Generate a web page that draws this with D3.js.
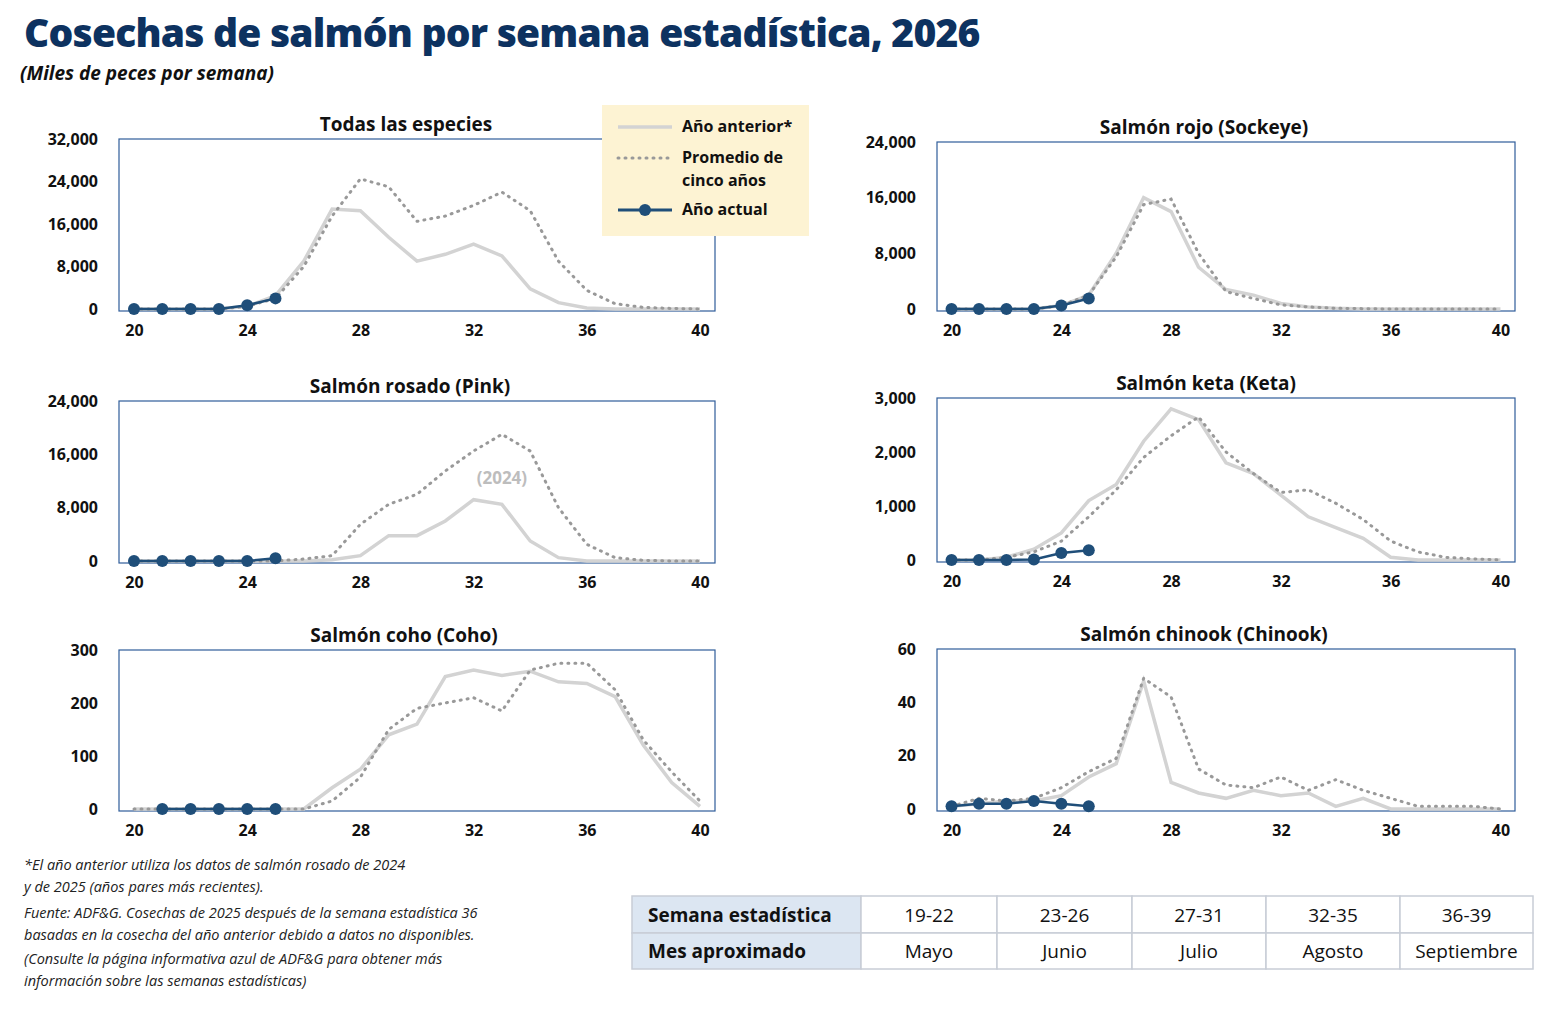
<!DOCTYPE html>
<html><head><meta charset="utf-8">
<script src="https://cdn.jsdelivr.net/npm/d3@7"></script>
<style>body{margin:0;background:#fff;font-family:"Open Sans",sans-serif}</style>
</head><body>
<svg id="chart" width="1552" height="1013"></svg>
<script>
const svg = d3.select("#chart");
const navy = "#0d3260";
const weeks = d3.range(20, 41);

// values per week 20..40
const panels = [
  { title: "Todas las especies", x0: 119, x1: 715, y0: 139, y1: 311, max: 32000, step: 8000, tx: 406,
    prev: [0,0,0,0,500,2500,9000,18800,18500,13500,9000,10300,12200,10000,3800,1200,200,0,0,0,0],
    five: [0,0,0,0,500,2000,8000,17500,24500,23000,16500,17500,19500,22000,18500,9000,3500,1000,300,100,0],
    cur: [0,0,0,0,700,2000] },
  { title: "Salmón rojo (Sockeye)", x0: 937, x1: 1515, y0: 142, y1: 311, max: 24000, step: 8000, tx: 1204,
    prev: [0,0,0,0,500,2000,8000,16000,14000,6000,2800,2000,800,300,100,0,0,0,0,0,0],
    five: [0,0,0,0,500,2000,7500,15000,15800,8000,2500,1500,600,300,100,50,0,0,0,0,0],
    cur: [0,0,0,0,500,1500] },
  { title: "Salmón rosado (Pink)", x0: 119, x1: 715, y0: 401, y1: 563, max: 24000, step: 8000, tx: 410, note: true,
    prev: [0,0,0,0,0,0,0,200,800,3800,3800,6000,9200,8500,3000,500,0,0,0,0,0],
    five: [0,0,0,0,0,0,300,800,5500,8500,10000,13500,16500,19000,16500,8000,2500,500,100,0,0],
    cur: [0,0,0,0,0,400] },
  { title: "Salmón keta (Keta)", x0: 937, x1: 1515, y0: 398, y1: 562, max: 3000, step: 1000, tx: 1206,
    prev: [0,0,50,200,500,1100,1400,2200,2800,2600,1800,1600,1200,800,600,400,50,0,0,0,0],
    five: [0,0,50,150,350,800,1300,1900,2300,2650,2000,1600,1250,1300,1050,750,350,150,50,20,0],
    cur: [0,0,0,10,130,180] },
  { title: "Salmón coho (Coho)", x0: 119, x1: 715, y0: 650, y1: 811, max: 300, step: 100, tx: 404,
    prev: [0,0,0,0,0,0,0,40,75,140,160,250,262,252,260,240,237,212,120,50,5],
    five: [0,0,0,0,0,0,0,15,60,150,190,200,210,185,262,275,275,225,130,70,15],
    cur: [null,0,0,0,0,0] },
  { title: "Salmón chinook (Chinook)", x0: 937, x1: 1515, y0: 649, y1: 811, max: 60, step: 20, tx: 1204,
    prev: [1,2,3,3,5,12,17,48,10,6,4,7,5,6,1,4,0,0,0,0,0],
    five: [1,4,3,4,8,14,19,49,42,15,9,8,12,7,11,7,4,1,1,1,0],
    cur: [1,2,2,3,2,1] }
];

panels.forEach(p => {
  const x = d3.scaleLinear().domain([19.47, 40.53]).range([p.x0, p.x1]);
  const y = d3.scaleLinear().domain([0, p.max]).range([p.y1 - 2, p.y0]);
  const g = svg.append("g");

  g.append("rect").attr("x", p.x0).attr("y", p.y0)
    .attr("width", p.x1 - p.x0).attr("height", p.y1 - p.y0)
    .attr("fill", "none").attr("stroke", "#2f5d9a").attr("stroke-width", 1.2);

  g.append("text").attr("x", p.tx).attr("y", p.y0 - 8)
    .attr("text-anchor", "middle").attr("font-size", 19).attr("font-weight", 700)
    .attr("fill", "#111").text(p.title);

  const yAxis = d3.axisLeft(y).tickValues(d3.range(0, p.max + 1, p.step))
    .tickFormat(d3.format(",")).tickSize(0).tickPadding(21);
  g.append("g").attr("transform", `translate(${p.x0},0)`).call(yAxis)
    .call(a => a.select(".domain").remove())
    .selectAll("text").attr("font-size", 16).attr("font-weight", 700)
    .attr("fill", "#111").attr("font-family", "Open Sans");

  const xAxis = d3.axisBottom(x).tickValues([20, 24, 28, 32, 36, 40]).tickSize(0).tickPadding(14);
  g.append("g").attr("transform", `translate(0,${p.y1})`).call(xAxis)
    .call(a => a.select(".domain").remove())
    .selectAll("text").attr("font-size", 16).attr("font-weight", 700)
    .attr("fill", "#111").attr("font-family", "Open Sans");

  const line = d3.line().defined(d => d[1] !== null).x(d => x(d[0])).y(d => y(d[1]));
  const pts = arr => arr.map((v, i) => [weeks[i], v]);

  g.append("path").attr("d", line(pts(p.prev))).attr("fill", "none")
    .attr("stroke", "#d3d3d3").attr("stroke-width", 3.5);
  g.append("path").attr("d", line(pts(p.five))).attr("fill", "none")
    .attr("stroke", "#999").attr("stroke-width", 3).attr("stroke-dasharray", "1,6")
    .attr("stroke-linecap", "round");
  const cur = pts(p.cur).filter(d => d[1] !== null);
  g.append("path").attr("d", line(cur)).attr("fill", "none")
    .attr("stroke", "#1f4e79").attr("stroke-width", 2.5);
  g.selectAll("circle").data(cur).join("circle")
    .attr("cx", d => x(d[0])).attr("cy", d => y(d[1])).attr("r", 6).attr("fill", "#1f4e79");

  if (p.note) {
    g.append("text").attr("x", x(33)).attr("y", y(11500)).attr("text-anchor", "middle")
      .attr("font-size", 17).attr("font-weight", 700).attr("fill", "#bdbdbd").text("(2024)");
  }
});

// title
svg.append("text").attr("x", 24).attr("y", 47).attr("font-size", 39).attr("font-weight", 800)
  .attr("fill", navy).attr("letter-spacing", -0.8).text("Cosechas de salmón por semana estadística, 2026");
svg.append("text").attr("x", 20).attr("y", 80).attr("font-size", 19).attr("font-weight", 700)
  .attr("font-style", "italic").attr("fill", "#111").text("(Miles de peces por semana)");

// legend
const lg = svg.append("g");
lg.append("rect").attr("x", 602).attr("y", 105).attr("width", 207).attr("height", 131).attr("fill", "#fdf3d3");
const leg = [
  { lab: ["Año anterior*"], y: 127, type: "prev" },
  { lab: ["Promedio de", "cinco años"], y: 158, type: "five" },
  { lab: ["Año actual"], y: 210, type: "cur" }
];
leg.forEach(l => {
  const ly = l.y;
  const ln = lg.append("line").attr("x1", 618).attr("x2", 672).attr("y1", ly).attr("y2", ly);
  if (l.type === "prev") ln.attr("stroke", "#d3d3d3").attr("stroke-width", 3.5);
  if (l.type === "five") ln.attr("stroke", "#999").attr("stroke-width", 3).attr("stroke-dasharray", "1,6").attr("stroke-linecap", "round");
  if (l.type === "cur") {
    ln.attr("stroke", "#1f4e79").attr("stroke-width", 3);
    lg.append("circle").attr("cx", 645).attr("cy", ly).attr("r", 6).attr("fill", "#1f4e79");
  }
  l.lab.forEach((t, i) => lg.append("text").attr("x", 682).attr("y", l.y + 5 + i * 23)
    .attr("font-size", 16).attr("font-weight", 700).attr("fill", "#111").text(t));
});

// footnotes
const notes = [
  ["*El año anterior utiliza los datos de salmón rosado de 2024", 870],
  ["y de 2025 (años pares más recientes).", 892],
  ["Fuente: ADF&G. Cosechas de 2025 después de la semana estadística 36", 918],
  ["basadas en la cosecha del año anterior debido a datos no disponibles.", 940],
  ["(Consulte la página informativa azul de ADF&G para obtener más", 964],
  ["información sobre las semanas estadísticas)", 986]
];
svg.append("g").selectAll("text").data(notes).join("text")
  .attr("x", 24).attr("y", d => d[1]).attr("font-size", 14.5).attr("font-style", "italic")
  .attr("fill", "#222").text(d => d[0]);

// table
const cols = [632, 861, 997, 1132, 1266, 1400, 1533];
const rows = [896, 933, 969];
const cells = [
  ["Semana estadística", "19-22", "23-26", "27-31", "32-35", "36-39"],
  ["Mes aproximado", "Mayo", "Junio", "Julio", "Agosto", "Septiembre"]
];
const tb = svg.append("g");
cells.forEach((r, ri) => r.forEach((c, ci) => {
  tb.append("rect").attr("x", cols[ci]).attr("y", rows[ri])
    .attr("width", cols[ci + 1] - cols[ci]).attr("height", rows[ri + 1] - rows[ri])
    .attr("fill", ci === 0 ? "#dce6f2" : "#fff").attr("stroke", "#c8cdd6").attr("stroke-width", 1.5);
  tb.append("text").attr("x", ci === 0 ? cols[0] + 16 : (cols[ci] + cols[ci + 1]) / 2)
    .attr("y", (rows[ri] + rows[ri + 1]) / 2 + 7)
    .attr("text-anchor", ci === 0 ? "start" : "middle").attr("font-size", 19)
    .attr("font-weight", ci === 0 ? 700 : 400).attr("fill", "#111").text(c);
}));
</script>
</body></html>
